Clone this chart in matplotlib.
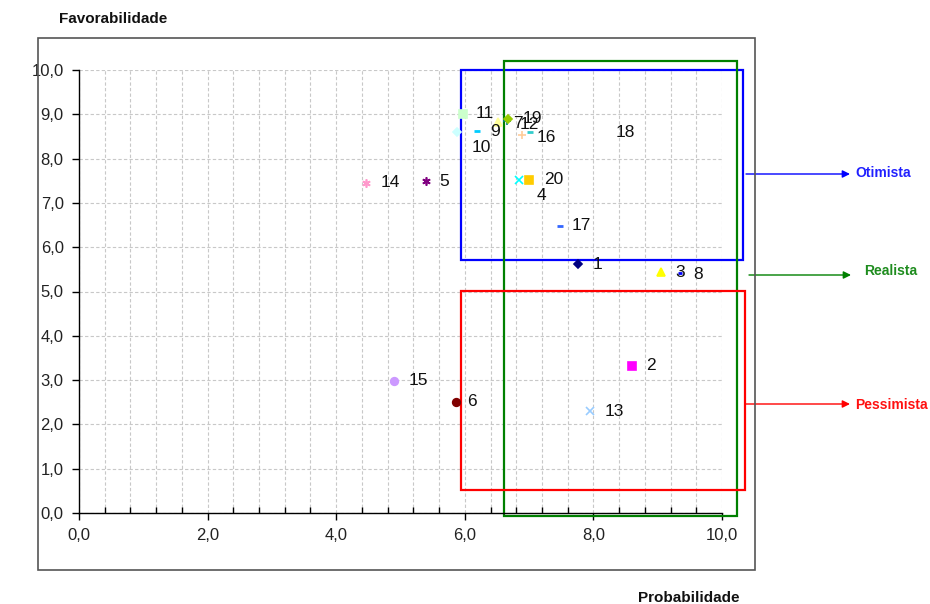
import matplotlib
matplotlib.use('Agg')
import matplotlib.pyplot as plt
from matplotlib.patches import Rectangle
from matplotlib.ticker import MultipleLocator, FuncFormatter

plt.rcParams['font.family'] = ['Liberation Sans', 'DejaVu Sans']

# chart data
LABELS = [str(i) for i in range(1, 21)]
PROB = [7.76, 8.60, 9.05, 6.84, 5.40, 5.86, 6.66, 9.35, 6.19, 5.88,
        5.97, 6.52, 7.95, 4.46, 4.90, 6.89, 7.48, 7.01, 6.67, 7.00]
FAV = [5.62, 3.32, 5.44, 7.52, 7.49, 2.51, 8.86, 5.42, 8.62, 8.60,
       9.01, 8.83, 2.30, 7.45, 2.98, 8.53, 6.48, 8.60, 8.89, 7.52]
# scenario boxes: (x0, y0, x1, y1)
SCENARIOS = ['Otimista', 'Realista', 'Pessimista']
BOXES = [(5.94, 5.71, 10.33, 10.0),
         (6.61, -0.07, 10.23, 10.20),
         (5.94, 0.52, 10.36, 5.01)]

# excel-like series styles
COLORS = ['#000080', '#FF00FF', '#FFFF00', '#00FFFF', '#800080', '#800000',
          '#008080', '#0000FF', '#00CCFF', '#CCFFFF', '#CCFFCC', '#FFFF99',
          '#99CCFF', '#FF99CC', '#CC99FF', '#FFCC99', '#3366FF', '#33CCCC',
          '#99CC00', '#FFCC00']
STAR = (6, 2, 0)
MARKERS = ['D', 's', '^', 'x', STAR, 'o', '+', '_', '_',
           'D', 's', '^', 'x', STAR, 'o', '+', '_', '_', 'D', 's']
SIZES = [4.5, 5.5, 6, 5.5, 6, 5.5, 6, 3, 5,
         4.5, 5.5, 6, 5.5, 6, 5.5, 6, 4, 5, 4.5, 5.5]
# label offsets in pixels
OFFSETS = [(15, 0), (14, 0), (14, 0), (18, -16), (13, 0), (11, 0), (6, -3),
           (13, -2), (13, 0), (15, -15), (13, 0), (21, -3), (14, 0), (15, 0),
           (15, 0), (15, -2), (12, 0), (86, 0), (15, 1), (15, 0)]
BOX_COLORS = ['#0000FF', '#008000', '#FF0000']
TEXT_COLORS = ['#2020FF', '#1E8C1E', '#FF1010']

W, H = 930, 604
fig = plt.figure(figsize=(W / 100, H / 100), dpi=100)

def fx(px):
    return px / W

def fy(py):
    return 1 - py / H

# outer chart frame
fig.patches.append(Rectangle((fx(38), fy(570)), fx(755) - fx(38), fy(38) - fy(570),
                             transform=fig.transFigure, fill=False,
                             edgecolor='#555555', lw=1.2))

ax = fig.add_axes([fx(79), fy(513), fx(722) - fx(79), fy(70) - fy(513)])
ax.set_xlim(0, 10)
ax.set_ylim(0, 10)
for s in ['top', 'right']:
    ax.spines[s].set_visible(False)
for s in ['left', 'bottom']:
    ax.spines[s].set_color('black')
    ax.spines[s].set_linewidth(1.0)

ax.xaxis.set_major_locator(MultipleLocator(2))
ax.xaxis.set_minor_locator(MultipleLocator(0.4))
ax.yaxis.set_major_locator(MultipleLocator(1))
fmt = FuncFormatter(lambda v, p: f'{v:.1f}'.replace('.', ','))
ax.xaxis.set_major_formatter(fmt)
ax.yaxis.set_major_formatter(fmt)
ax.tick_params(which='major', direction='out', length=5, width=1,
               labelsize=12, labelcolor='#222222', pad=6)
ax.tick_params(axis='x', which='minor', direction='in', length=4, width=1)
ax.grid(axis='x', which='both', color='#c8c8c8', ls=(0, (3, 2)), lw=0.8)
ax.grid(axis='y', which='major', color='#c8c8c8', ls=(0, (3, 2)), lw=0.8)
ax.set_axisbelow(True)

for (x0, y0, x1, y1), c in zip(BOXES, BOX_COLORS):
    ax.add_patch(Rectangle((x0, y0), x1 - x0, y1 - y0, fill=False,
                           edgecolor=c, lw=1.6, clip_on=False, zorder=2))

for i in range(len(LABELS)):
    m = MARKERS[i]
    mew = 2 if m == '_' else 1.2
    ax.plot(PROB[i], FAV[i], marker=m, color=COLORS[i], ms=SIZES[i],
            mew=mew, ls='none', zorder=3, clip_on=False)
    ax.annotate(LABELS[i], (PROB[i], FAV[i]), xytext=OFFSETS[i],
                textcoords='offset pixels', ha='left', va='center',
                fontsize=12.5, color='#111111', zorder=4)

fig.text(fx(113), fy(19), 'Favorabilidade', ha='center', va='center',
         fontsize=11, fontweight='bold', color='#111111')
fig.text(fx(689), fy(598), 'Probabilidade', ha='center', va='center',
         fontsize=11, fontweight='bold', color='#111111')

# scenario arrows
ARROWS = [(746, 850, 174, 855, 173), (749, 851, 275, 864, 271),
          (746, 850, 404, 855, 405)]
for (xa, xb, ya, xt, yt), name, c, tc in zip(ARROWS, SCENARIOS,
                                             BOX_COLORS, TEXT_COLORS):
    ax.annotate('', xy=(fx(xb), fy(ya)), xytext=(fx(xa), fy(ya)),
                xycoords='figure fraction', textcoords='figure fraction',
                arrowprops=dict(arrowstyle='-|>', color=c, lw=1,
                                mutation_scale=11, shrinkA=0, shrinkB=0))
    fig.text(fx(xt), fy(yt), name, ha='left', va='center', fontsize=10,
             fontweight='bold', color=tc)

fig.savefig('out.png', dpi=100)
